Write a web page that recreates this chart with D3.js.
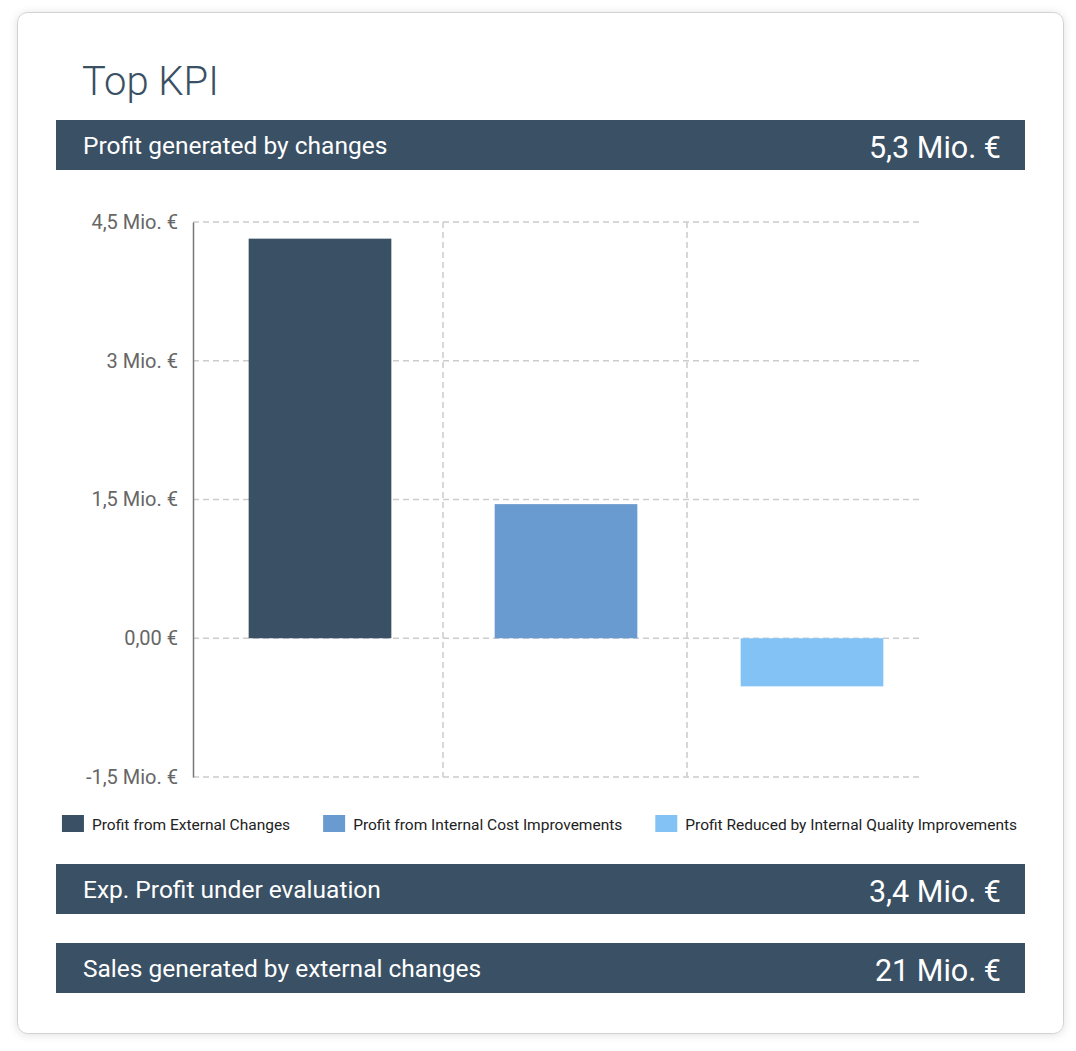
<!DOCTYPE html>
<html>
<head>
<meta charset="utf-8">
<script src="https://cdn.jsdelivr.net/npm/d3@7"></script>
<style>
  html, body { margin: 0; padding: 0; background: #ffffff; }
  svg { display: block; font-family: Roboto, "Noto Sans", sans-serif; }
</style>
</head>
<body>
<div id="chart"></div>
<script>
// ---- data ----
const title = "Top KPI";
const categories = [
  "Profit from External Changes",
  "Profit from Internal Cost Improvements",
  "Profit Reduced by Internal Quality Improvements"
];
const values = [4.32, 1.45, -0.52]; // Mio. €
const barColors = ["#3a5064", "#6a9bd0", "#82c2f5"];
const yTicks = [-1.5, 0, 1.5, 3, 4.5];
const yTickLabels = ["-1,5 Mio. €", "0,00 €", "1,5 Mio. €", "3 Mio. €", "4,5 Mio. €"];
const kpiLabels = ["Profit generated by changes", "Exp. Profit under evaluation", "Sales generated by external changes"];
const kpiValues = ["5,3 Mio. €", "3,4 Mio. €", "21 Mio. €"];

// ---- layout ----
const W = 1076, H = 1051;
const dark = "#3a5064";
const svg = d3.select("#chart").append("svg").attr("width", W).attr("height", H);

const defs = svg.append("defs");
const f = defs.append("filter").attr("id", "shadow").attr("x", "-5%").attr("y", "-5%").attr("width", "110%").attr("height", "110%");
f.append("feDropShadow").attr("dx", 0).attr("dy", 1).attr("stdDeviation", 4).attr("flood-color", "#000").attr("flood-opacity", 0.12);

// card
svg.append("rect").attr("x", 17.5).attr("y", 12.5).attr("width", 1046).attr("height", 1021)
  .attr("rx", 10).attr("fill", "#fff").attr("stroke", "#d2d2d2").attr("stroke-width", 1)
  .attr("filter", "url(#shadow)");

// title
svg.append("text").attr("x", 82).attr("y", 95).text(title)
  .attr("font-size", 40).attr("font-weight", 300).attr("fill", dark);

// KPI header bars
const kpiY = [120, 864, 943];
kpiLabels.forEach((lab, i) => {
  const g = svg.append("g").attr("transform", `translate(56,${kpiY[i]})`);
  g.append("rect").attr("width", 969).attr("height", 50).attr("fill", dark);
  g.append("text").attr("x", 27).attr("y", 34).text(lab)
    .attr("font-size", 24.5).attr("fill", "#fff");
  g.append("text").attr("x", 945).attr("y", 38).attr("text-anchor", "end").text(kpiValues[i])
    .attr("font-size", 30.5).attr("fill", "#fff");
});

// ---- chart ----
const y = d3.scaleLinear().domain([-1.5, 4.5]).range([777, 222]);
const x = d3.scaleBand().domain(categories).range([197, 935]).paddingInner(0.42).paddingOuter(0.21);
const plotLeft = 193, plotRight = 922;

const grid = svg.append("g").attr("stroke", "#cccccc").attr("stroke-width", 1.5).attr("stroke-dasharray", "6,4");
grid.selectAll("line.h").data(yTicks).join("line")
  .attr("x1", plotLeft).attr("x2", plotRight)
  .attr("y1", d => y(d)).attr("y2", d => y(d));
// vertical separators between categories
const seps = categories.slice(1).map((c, i) => (x(categories[i]) + x.bandwidth() + x(c)) / 2 - 2 * i);
grid.selectAll("line.v").data(seps).join("line")
  .attr("x1", d => d).attr("x2", d => d)
  .attr("y1", y(4.5)).attr("y2", y(-1.5));

// bars
svg.append("g").selectAll("rect").data(values).join("rect")
  .attr("x", (d, i) => x(categories[i]))
  .attr("width", x.bandwidth())
  .attr("y", d => y(Math.max(0, d)))
  .attr("height", d => Math.abs(y(d) - y(0)))
  .attr("fill", (d, i) => barColors[i]);

// y axis
const yAxis = d3.axisLeft(y).tickValues(yTicks).tickSize(0).tickPadding(15)
  .tickFormat((d, i) => yTickLabels[i]);
const ag = svg.append("g").attr("transform", `translate(${plotLeft},0)`).call(yAxis);
ag.select(".domain").attr("stroke", "#777").attr("stroke-width", 1.5);
ag.selectAll("text").attr("font-size", 20).attr("fill", "#666").attr("font-family", "Roboto, sans-serif");

// legend
const lg = svg.append("g");
const items = lg.selectAll("g").data(categories).join("g");
items.append("rect").attr("width", 22).attr("height", 17).attr("y", 815).attr("fill", (d, i) => barColors[i]);
items.append("text").attr("x", 30).attr("y", 830).text(d => d)
  .attr("font-size", 15.5).attr("fill", "#222");
const widths = [];
items.each(function () { widths.push(30 + d3.select(this).select("text").node().getComputedTextLength()); });
const gap = 33;
const total = d3.sum(widths) + gap * (widths.length - 1);
let cx = 539.5 - total / 2;
items.attr("transform", (d, i) => { const t = `translate(${cx},0)`; cx += widths[i] + gap; return t; });
</script>
</body>
</html>
